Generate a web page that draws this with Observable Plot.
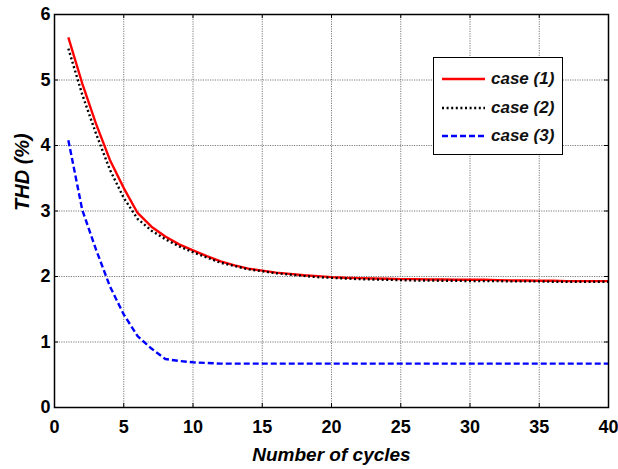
<!DOCTYPE html>
<html>
<head>
<meta charset="utf-8">
<script src="https://cdn.jsdelivr.net/npm/d3@7"></script>
<script src="https://cdn.jsdelivr.net/npm/@observablehq/plot@0.6"></script>
<style>
  body { margin: 0; background: #fff; }
  #wrap { position: relative; width: 618px; height: 469px; font-family: "Liberation Sans", Arial, sans-serif; }
  #legend { position: absolute; left: 433px; top: 57px; width: 130px; height: 98px; box-sizing: border-box;
            border: 1.5px solid #000; background: #fff; padding-top: 7px; }
  .row { display: flex; align-items: center; height: 28.5px; }
  .row svg { margin-left: 8px; margin-right: 6px; }
  .row span { font-weight: bold; font-style: italic; font-size: 17px; color: #111; }
</style>
</head>
<body>
<div id="wrap"></div>
<script>
const cycles = [1,2,3,4,5,6,7,8,9,10,11,12,13,14,15,16,17,18,19,20,21,22,23,24,25,26,27,28,29,30,31,32,33,34,35,36,37,38,39,40];
const case1 = [5.65,4.95,4.33,3.78,3.35,2.97,2.76,2.61,2.49,2.40,2.31,2.23,2.17,2.12,2.09,2.06,2.04,2.02,2.005,1.99,1.98,1.975,1.97,1.965,1.96,1.96,1.955,1.955,1.95,1.95,1.95,1.945,1.94,1.94,1.935,1.935,1.93,1.93,1.93,1.93];
const case2 = [5.48,4.78,4.18,3.63,3.20,2.88,2.70,2.57,2.46,2.37,2.29,2.21,2.16,2.11,2.08,2.05,2.03,2.01,1.99,1.98,1.97,1.96,1.955,1.95,1.945,1.94,1.94,1.935,1.935,1.93,1.93,1.93,1.925,1.925,1.925,1.92,1.92,1.92,1.92,1.92];
const case3 = [4.08,3.02,2.41,1.85,1.42,1.09,0.90,0.74,0.71,0.69,0.68,0.67,0.67,0.67,0.67,0.67,0.67,0.67,0.67,0.67,0.67,0.67,0.67,0.67,0.67,0.67,0.67,0.67,0.67,0.67,0.67,0.67,0.67,0.67,0.67,0.67,0.67,0.67,0.67,0.67];
const seriesNames = ["case (1)", "case (2)", "case (3)"];
const seriesColors = ["#ff0000", "#000000", "#0000ff"];
const seriesDash = [null, "2,2.6", "6,3"];
const xTicks = [0,5,10,15,20,25,30,35,40];
const yTicks = [0,1,2,3,4,5,6];
const xLabel = "Number of cycles";
const yLabel = "THD (%)";

const W = 618, H = 469;
const mL = 54, mR = 10, mT = 14, mB = 62;
const innerW = W - mL - mR, innerH = H - mT - mB;
const tickLen = 4;

const rows = (vals) => cycles.map((c, i) => ({x: c, y: vals[i]}));
const allSeries = [case1, case2, case3];
const tickFont = {fontSize: 18, fontWeight: "bold", fill: "#000", tickFormat: d => String(d)};

const chart = Plot.plot({
  width: W, height: H,
  marginLeft: mL, marginRight: mR, marginTop: mT, marginBottom: mB,
  style: {fontFamily: '"Liberation Sans", Arial, sans-serif', background: "#fff"},
  x: {domain: [0, 40]},
  y: {domain: [0, 6]},
  marks: [
    Plot.gridX(xTicks.slice(1, -1), {stroke: "#7a7a7a", strokeOpacity: 1, strokeDasharray: "1.2,1.2", strokeWidth: 1}),
    Plot.gridY(yTicks.slice(1, -1), {stroke: "#7a7a7a", strokeOpacity: 1, strokeDasharray: "1.2,1.2", strokeWidth: 1}),
    Plot.tickX(xTicks, {x: d => d, insetTop: innerH - tickLen, stroke: "#000", strokeWidth: 1}),
    Plot.tickX(xTicks, {x: d => d, insetBottom: innerH - tickLen, stroke: "#000", strokeWidth: 1}),
    Plot.tickY(yTicks, {y: d => d, insetRight: innerW - tickLen, stroke: "#000", strokeWidth: 1}),
    Plot.tickY(yTicks, {y: d => d, insetLeft: innerW - tickLen, stroke: "#000", strokeWidth: 1}),
    ...allSeries.map((vals, i) => Plot.line(rows(vals), {
      x: "x", y: "y", stroke: seriesColors[i], strokeWidth: 2.4,
      strokeDasharray: seriesDash[i], strokeLinecap: "butt", strokeLinejoin: "round"
    })),
    Plot.frame({stroke: "#000", strokeWidth: 1.5}),
    Plot.axisX(xTicks, {anchor: "bottom", tickSize: 0, tickPadding: 13, label: null, ...tickFont}),
    Plot.axisY(yTicks, {anchor: "left", tickSize: 0, tickPadding: 4, label: null, ...tickFont}),
    Plot.text([xLabel], {frameAnchor: "bottom", dy: 40, lineAnchor: "top", fontSize: 19, fontWeight: "bold", fontStyle: "italic", fill: "#000"}),
    Plot.text([yLabel], {frameAnchor: "left", dx: -32, rotate: -90, fontSize: 20, fontWeight: "bold", fontStyle: "italic", fill: "#000"})
  ]
});

const wrap = document.getElementById("wrap");
wrap.appendChild(chart);

const legend = document.createElement("div");
legend.id = "legend";
seriesNames.forEach((name, i) => {
  const row = document.createElement("div");
  row.className = "row";
  const dash = seriesDash[i] ? `stroke-dasharray="${seriesDash[i]}"` : "";
  row.innerHTML = `<svg width="43" height="6"><line x1="0" y1="3" x2="43" y2="3" stroke="${seriesColors[i]}" stroke-width="2.4" ${dash}/></svg><span>${name}</span>`;
  legend.appendChild(row);
});
wrap.appendChild(legend);
</script>
</body>
</html>
